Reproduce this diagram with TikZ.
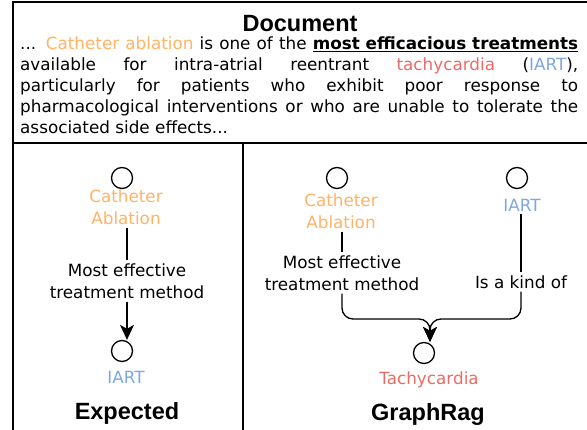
\documentclass[tikz,border=0pt]{standalone}
\usepackage{fontspec}
\setmainfont{DejaVu Sans}
\newfontfamily\titlefont{Liberation Sans}
\usetikzlibrary{arrows.meta}
\definecolor{orangeT}{HTML}{FFB366}
\definecolor{redT}{HTML}{EA6B66}
\definecolor{blueT}{HTML}{7EA6E0}
\tikzset{
  frame/.style={line width=1.6pt, line cap=rect},
  ent/.style={circle, draw, line width=1.3pt, minimum size=21pt, inner sep=0pt},
  lbl/.style={align=center, font=\fontsize{16.8}{22}\selectfont, inner sep=3pt},
  ttl/.style={font=\titlefont\bfseries\fontsize{23.5}{26}\selectfont, inner sep=0pt},
  conn/.style={line width=1.3pt},
  arr/.style={line width=1.3pt, -{Stealth[length=15pt, width=14pt, inset=4pt]}},
}
\begin{document}
\begin{tikzpicture}[x=1pt, y=-1pt]
\useasboundingbox (0,0) rectangle (587,430);
% frame
\draw[frame] (13,430) -- (13,2) -- (587,2);
\draw[frame] (13,143) -- (587,143);
\draw[frame] (243,143) -- (243,430);
% document
\node[ttl, anchor=base] (doctitle) at (300,32) {Document};
\node[anchor=base west, inner sep=0pt] (doctext) at (20,50)
{\parbox[t]{558pt}{\fontsize{16.8}{21}\selectfont
... {\color{orangeT}Catheter ablation} is one of the \underline{\textbf{most efficacious treatments}}\linebreak
available for intra-atrial reentrant {\color{redT}tachycardia} ({\color{blueT}IART}),\linebreak
particularly for patients who exhibit poor response to\linebreak
pharmacological interventions or who are unable to tolerate the\linebreak
associated side effects...}};
% Expected panel
\node[ent] (cL1) at (122,178) {};
\node[lbl, text=orangeT] (caL) at (126,207) {Catheter\\Ablation};
\node[lbl] (relL) at (127,281) {Most effective\\treatment method};
\node[ent] (cL2) at (122,351) {};
\node[lbl, text=blueT] (iartL) at (126,377) {IART};
\node[ttl] (expected) at (127,413) {Expected};
\draw[conn] (caL.south -| relL.north) -- (relL.north);
\draw[arr] (relL.south) -- (relL.south |- cL2.north);
% GraphRag panel
\node[ent] (cR1) at (337,178) {};
\node[lbl, text=orangeT] (caR) at (341,211) {Catheter\\Ablation};
\node[lbl] (relR1) at (342,273) {Most effective\\treatment method};
\node[ent] (cR2) at (517,178) {};
\node[lbl, text=blueT] (iartR) at (522,205) {IART};
\node[lbl] (relR2) at (521,282) {Is a kind of};
\node[ent] (cT) at (424,353) {};
\node[lbl, text=redT] (tachy) at (429,380) {Tachycardia};
\node[ttl] (graphrag) at (428,414) {GraphRag};
\coordinate (join) at (430,319);
\draw[conn] (caR.south -| relR1.north) -- (relR1.north);
\draw[conn] (iartR.south -| relR2.north) -- (relR2.north);
\draw[arr, rounded corners=11pt] (relR1.south) |- (join) -- (join |- cT.north);
\draw[arr, rounded corners=11pt] (relR2.south) |- (join) -- (join |- cT.north);
\end{tikzpicture}
\end{document}
